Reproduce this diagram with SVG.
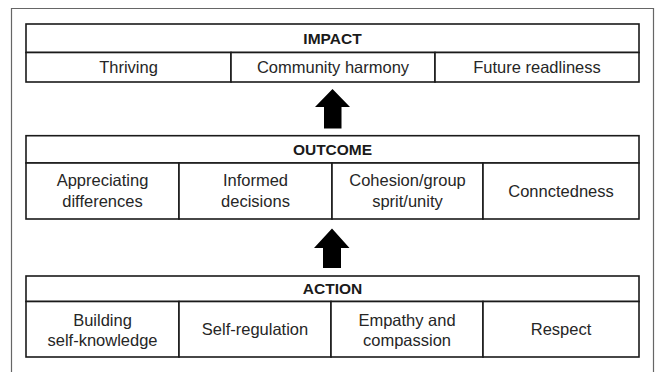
<svg xmlns="http://www.w3.org/2000/svg" width="660" height="372" viewBox="0 0 660 372">
<style>
.cell{fill:#fff;stroke:#1a1a1a;stroke-width:1.6}
.t{font-family:"Liberation Sans",Arial,sans-serif;font-size:16.5px;fill:#262626;text-anchor:middle}
.h{font-family:"Liberation Sans",Arial,sans-serif;font-size:15.5px;font-weight:bold;fill:#1a1a1a;text-anchor:middle}
.arrow{fill:#000}
</style>
<rect width="660" height="372" fill="#fff"/>
<path d="M11.5,373 V8.5 H653.5 V373" fill="none" stroke="#666" stroke-width="1.2"/>
<g id="impact">
<rect class="cell" x="26" y="24" width="613" height="28.5"/>
<text class="h" x="332.5" y="43.5">IMPACT</text>
<rect class="cell" x="26" y="52.5" width="205" height="29.5"/>
<rect class="cell" x="231" y="52.5" width="204" height="29.5"/>
<rect class="cell" x="435" y="52.5" width="204" height="29.5"/>
<text class="t" x="128.5" y="72.8">Thriving</text>
<text class="t" x="333" y="72.8">Community harmony</text>
<text class="t" x="537" y="72.8">Future readliness</text>
</g>
<g id="outcome">
<rect class="cell" x="26" y="135.7" width="613" height="27.3"/>
<text class="h" x="332.5" y="154.5">OUTCOME</text>
<rect class="cell" x="26" y="163" width="153" height="56"/>
<rect class="cell" x="179" y="163" width="153" height="56"/>
<rect class="cell" x="332" y="163" width="151" height="56"/>
<rect class="cell" x="483" y="163" width="156" height="56"/>
<text class="t" x="102.5" y="186">Appreciating</text>
<text class="t" x="102.5" y="206.5">differences</text>
<text class="t" x="255.5" y="186">Informed</text>
<text class="t" x="255.5" y="206.5">decisions</text>
<text class="t" x="407.5" y="186">Cohesion/group</text>
<text class="t" x="407.5" y="206.5">sprit/unity</text>
<text class="t" x="561" y="197">Connctedness</text>
</g>
<g id="action">
<rect class="cell" x="26" y="276" width="613" height="25.5"/>
<text class="h" x="332.5" y="294">ACTION</text>
<rect class="cell" x="26" y="301.5" width="153" height="55.5"/>
<rect class="cell" x="179" y="301.5" width="152" height="55.5"/>
<rect class="cell" x="331" y="301.5" width="152" height="55.5"/>
<rect class="cell" x="483" y="301.5" width="156" height="55.5"/>
<text class="t" x="102.5" y="326">Building</text>
<text class="t" x="102.5" y="346">self-knowledge</text>
<text class="t" x="255" y="335">Self-regulation</text>
<text class="t" x="407" y="326">Empathy and</text>
<text class="t" x="407" y="346">compassion</text>
<text class="t" x="561" y="335">Respect</text>
</g>
<g id="connectors">
<polygon class="arrow" points="332.5,89 350,107 341.5,107 341.5,128.5 324,128.5 324,107 315,107"/>
<polygon class="arrow" points="332,228.5 349.5,248 341,248 341,268 323,268 323,248 314,248"/>
</g>
</svg>
